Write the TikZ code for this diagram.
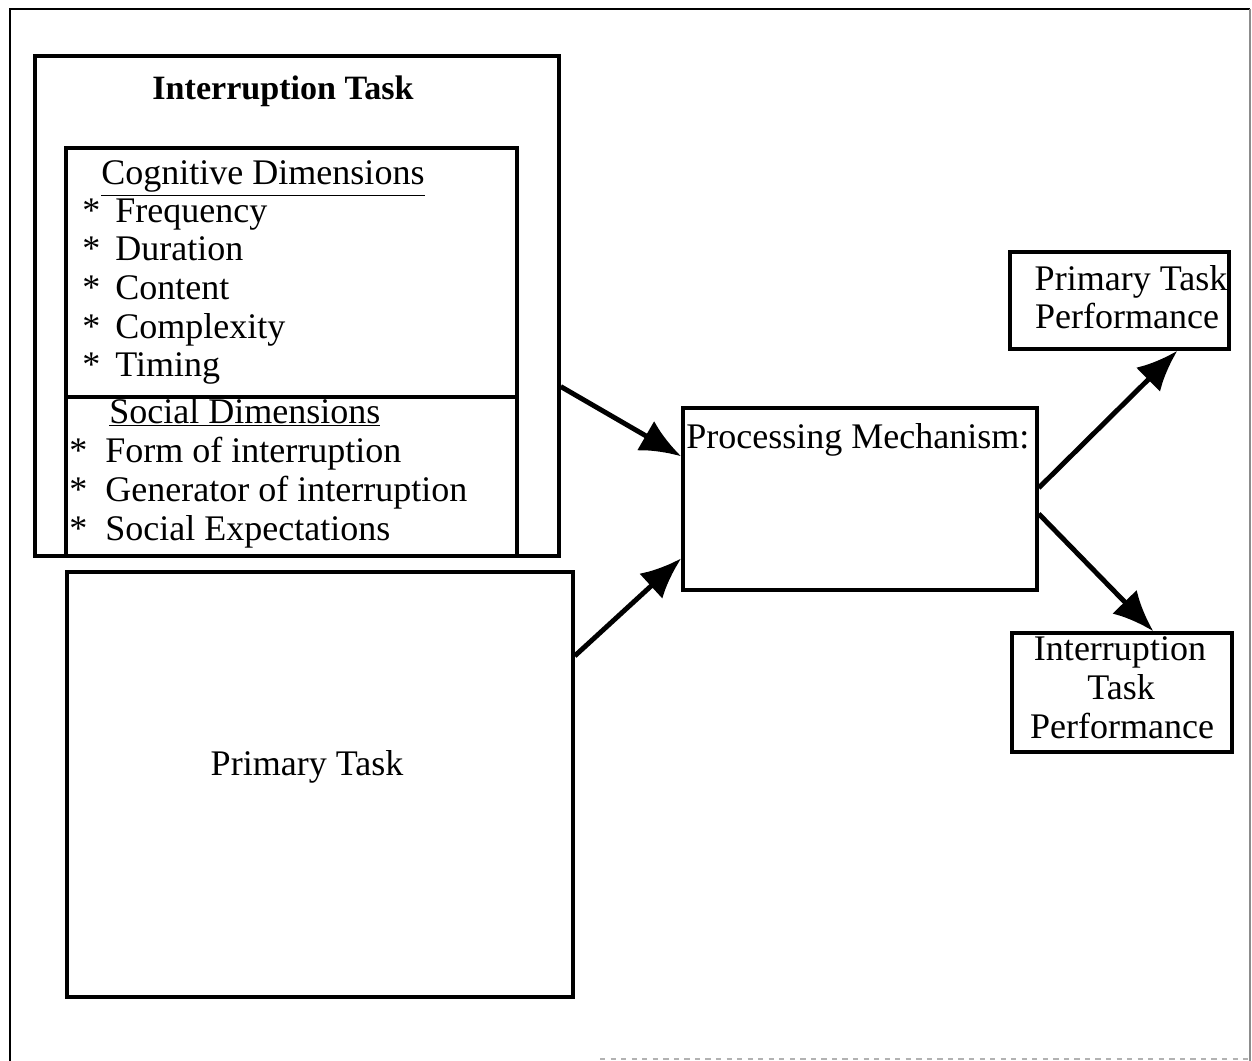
\documentclass[tikz,border=0pt]{standalone}
\usepackage{fontspec}
\setmainfont{Liberation Serif}
\usetikzlibrary{arrows.meta,fit,calc}
\tikzset{
  box/.style={draw,line width=2pt,inner sep=0pt},
  txt/.style={inner sep=0pt,anchor=base west,font=\fontsize{20.5}{24}\selectfont},
  ctxt/.style={txt,anchor=base},
  arr/.style={line width=2.8pt,-{Latex[length=0.82cm,width=0.68cm]}},
}
\begin{document}
\begin{tikzpicture}[x=0.02cm,y=-0.02cm]
  \useasboundingbox (0,0) rectangle (1252,1061);
  \draw[line width=1.6pt] (10,1061) -- (10,9) -- (1250,9);
  \draw[line width=0.8pt,black!45] (1250,9) -- (1250,1061);
  \draw[line width=0.8pt,black!30,dashed] (600,1059) -- (1252,1059);
  \node[box,fit={(35,56) (559,556)}] (inter) {};
  \node[box,fit={(66,148) (517,397)}] (cog) {};
  \node[box,fit={(66,397) (517,556)}] (soc) {};
  \node[box,fit={(67,572) (573,997)}] (prim) {};
  \node[box,fit={(683,408) (1037,590)}] (proc) {};
  \node[box,fit={(1010,252) (1229,349)}] (pperf) {};
  \node[box,fit={(1012,633) (1232,752)}] (iperf) {};
  \node[ctxt,font=\fontsize{19.4}{23}\selectfont\bfseries] (intertitle) at (283,100) {Interruption Task};
  \node[txt] (cogtitle) at (101,185) {\underline{Cognitive Dimensions}};
  \foreach \t [count=\i] in {Frequency,Duration,Content,Complexity,Timing}{
    \node[txt] (cogstar\i) at (82,{222+38.7*(\i-1)}) {*};
    \node[txt] (cog\i) at (115,{222+38.7*(\i-1)}) {\t};
  };
  \node[txt] (soctitle) at (109,423) {\underline{Social Dimensions}};
  \foreach \t [count=\i] in {Form of interruption,Generator of interruption,Social Expectations}{
    \node[txt] (socstar\i) at (69,{462+39*(\i-1)}) {*};
    \node[txt] (soc\i) at (105,{462+39*(\i-1)}) {\t};
  };
  \node[ctxt] (primlabel) at (307,775) {Primary Task};
  \node[txt] (proclabel) at (686,448) {Processing Mechanism:};
  \node[ctxt] (pperf1) at (1131,290) {Primary Task};
  \node[ctxt] (pperf2) at (1127,328) {Performance};
  \node[ctxt] (iperf1) at (1120,660) {Interruption};
  \node[ctxt] (iperf2) at (1121,699) {Task};
  \node[ctxt] (iperf3) at (1122,738) {Performance};
  \draw[arr] ($(inter.north east)!0.66!(inter.south east)$) -- ($(proc.north west)!0.27!(proc.south west)$);
  \draw[arr] ($(prim.north east)!0.2!(prim.south east)$) -- ($(proc.north west)!0.82!(proc.south west)$);
  \draw[arr] ($(proc.north east)!0.44!(proc.south east)$) -- ($(pperf.south west)!0.76!(pperf.south east)$);
  \draw[arr] ($(proc.north east)!0.58!(proc.south east)$) -- ($(iperf.north west)!0.64!(iperf.north east)$);
\end{tikzpicture}
\end{document}
